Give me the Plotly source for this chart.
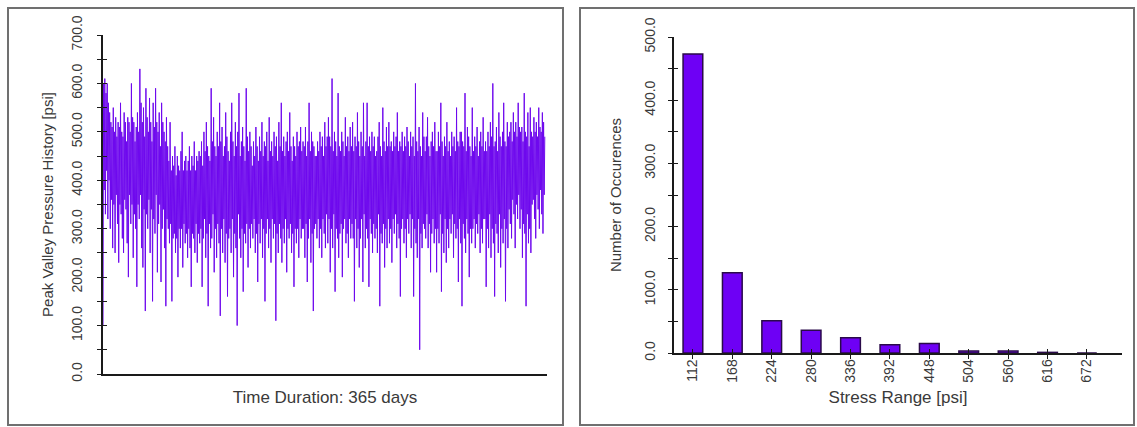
import plotly.graph_objects as go

# ---- Left chart: peak-valley pressure history (psi) ----
pressure_part1 = [100, 600, 380, 610, 330, 580, 420, 600, 320, 560,
                  400, 540, 300, 520, 360, 510, 260, 550, 350, 500,
                  250, 530, 370, 490, 310, 520, 230, 510, 350, 560,
                  330, 500, 280, 490, 250, 540, 360, 520, 340, 480,
                  270, 530, 200, 520, 370, 500, 310, 600, 350, 530,
                  240, 520, 330, 480, 300, 510, 180, 540, 350, 500,
                  320, 630, 370, 560, 260, 520, 220, 550, 340, 490,
                  130, 590, 330, 530, 300, 500, 360, 570, 250, 520,
                  340, 480, 150, 560, 320, 510, 290, 590, 370, 520,
                  210, 500, 310, 540, 350, 470, 190, 560, 300, 520,
                  340, 500, 260, 480, 140, 530, 320, 470]
pressure_part2 = [300, 440, 270, 520, 310, 420, 150, 450, 280, 430,
                  290, 470, 250, 410, 280, 450, 200, 430, 300, 420,
                  260, 460, 300, 500, 220, 420, 310, 440, 270, 450,
                  290, 420, 240, 440, 300, 470, 260, 420, 180, 450,
                  290, 430, 280, 480, 250, 420, 310, 450, 230, 440,
                  290, 460]
pressure_part3 = [270, 450, 300, 480, 180, 430, 280, 500, 320, 460,
                  240, 520, 290, 470, 140, 450, 310, 440, 260, 590,
                  280, 480, 330, 530, 210, 470, 300, 450, 240, 500,
                  310, 470, 270, 560, 120, 480, 300, 510, 250, 450,
                  320, 470, 230, 540, 290, 490, 160, 460, 280, 440,
                  300, 500, 250, 560, 320, 480, 200, 450, 290, 520,
                  260, 470, 100, 500, 330, 580, 280, 450, 240, 480,
                  300, 510, 170, 470, 290, 440, 270, 590, 310, 490,
                  220, 460, 300, 500, 260, 470, 310, 430, 280, 480,
                  320, 450, 250, 510, 290, 470, 190, 440, 310, 490,
                  270, 460, 320, 520, 240, 450, 300, 480, 150, 470,
                  290, 500, 320, 440, 260, 530, 300, 460, 230, 480,
                  320, 450, 280, 500, 310, 470, 110, 490, 290, 440,
                  250, 520, 310, 470, 280, 560, 230, 460, 300, 490,
                  270, 450, 320, 480, 210, 500, 300, 460, 280, 540,
                  310, 470, 250, 440, 290, 490, 180, 470, 300, 450,
                  270, 500, 300, 470, 240, 480, 320, 510, 280, 460,
                  300, 480]
pressure_part4 = [300, 470, 240, 510, 310, 450, 190, 480, 280, 560, 320, 460, 230, 500, 290, 480, 130, 470, 300, 450,
                  310, 450, 280, 480, 320, 460, 260, 500, 300, 470, 240, 490, 320, 450, 290, 520, 260, 470, 330, 490,
                  270, 530, 320, 490, 210, 470, 300, 610, 260, 460, 330, 500, 170, 480, 300, 450, 280, 580, 240, 470,
                  290, 460, 310, 500, 200, 480, 300, 450, 320, 530, 270, 470, 290, 490, 240, 460, 320, 510, 280, 470,
                  310, 520, 280, 460, 150, 490, 320, 470, 260, 540, 300, 480, 220, 450, 280, 500, 320, 470, 190, 560,
                  330, 450, 260, 480, 300, 560, 280, 470, 180, 490, 320, 460, 290, 500, 250, 470, 310, 490, 280, 450,
                  300, 460, 250, 490, 330, 520, 140, 470, 290, 450, 270, 550, 310, 480, 220, 460, 300, 510, 260, 470,
                  320, 520, 270, 470, 300, 480, 230, 460, 320, 500, 290, 470, 330, 490, 260, 540, 310, 460, 280, 480,
                  160, 470, 300, 500, 320, 460, 270, 490, 300, 470, 240, 510, 320, 480, 290, 450, 330, 500, 260, 470,
                  320, 490, 160, 450, 300, 600, 270, 480, 240, 460, 320, 510, 50, 470, 290, 450, 260, 540, 310, 490,
                  300, 460, 280, 490, 330, 530, 260, 470, 310, 450, 210, 480, 290, 500, 320, 470, 270, 520, 300, 460,
                  210, 460, 300, 500, 270, 470, 330, 560, 170, 480, 290, 450, 250, 490, 320, 470, 230, 520, 300, 460,
                  260, 480, 320, 450, 290, 500, 330, 470, 240, 490, 310, 460, 280, 550, 300, 480, 190, 470, 320, 500,
                  270, 500, 140, 480, 310, 470, 280, 580, 250, 460, 320, 510, 290, 490, 200, 470, 300, 450, 270, 550,
                  300, 460, 320, 490, 260, 470, 310, 510, 290, 450, 330, 480, 250, 500, 300, 470, 270, 530, 320, 460,
                  320, 480, 180, 460, 300, 500, 260, 470, 330, 520, 240, 490, 300, 600, 270, 470, 160, 480, 310, 510,
                  290, 460, 250, 540, 330, 490, 220, 470, 300, 500, 270, 560, 320, 480, 150, 470, 300, 520, 260, 490,
                  340, 500, 310, 520, 280, 480, 360, 540, 330, 500, 260, 520, 350, 490, 320, 560, 370, 510, 300, 500,
                  340, 510, 240, 480, 310, 580, 290, 500, 140, 490, 330, 540, 270, 470, 300, 550, 250, 500, 350, 490,
                  360, 530, 320, 500, 280, 520, 370, 490, 340, 550, 300, 510, 380, 500, 330, 540, 290, 520, 370, 490]
pressure = pressure_part1 + pressure_part2 + pressure_part3 + pressure_part4
sample_index = list(range(len(pressure)))

# ---- Right chart: stress range histogram ----
stress_labels = ["112", "168", "224", "280", "336", "392", "448", "504", "560", "616", "672"]
occurrences = [473, 127, 51, 36, 24, 13, 15, 3, 3, 1, 0]
bar_pos = list(range(len(stress_labels)))

W, H = 1137, 427
FONT = "Liberation Sans, Arial, sans-serif"
TXT = "#3a3a3a"
AX = "#1a1a1a"
LINE_PURPLE = "#6E08EE"
BAR_FILL = "#6E00F5"
BAR_EDGE = "#2A0A4A"


def px_x(p):
    return p / W


def px_y(p):
    return 1 - p / H


fig = go.Figure()
fig.add_trace(go.Scatter(x=sample_index, y=pressure, mode="lines",
                         line=dict(color=LINE_PURPLE, width=1.0),
                         xaxis="x", yaxis="y", showlegend=False,
                         hoverinfo="skip"))
fig.add_trace(go.Bar(x=bar_pos, y=occurrences, width=0.5,
                     marker=dict(color=BAR_FILL, line=dict(color=BAR_EDGE, width=1.5)),
                     xaxis="x2", yaxis="y2", showlegend=False))
# empty helper traces so the overlay axes (inner halves of the crossing ticks) are drawn
fig.add_trace(go.Scatter(x=[], y=[], xaxis="x", yaxis="y3", showlegend=False))
fig.add_trace(go.Scatter(x=[], y=[], xaxis="x2", yaxis="y4", showlegend=False))
fig.add_trace(go.Scatter(x=[], y=[], xaxis="x3", yaxis="y2", showlegend=False))

axis_common = dict(showline=True, linecolor=AX, linewidth=1.5,
                   showgrid=False, zeroline=False, automargin=False,
                   tickfont=dict(family=FONT, size=14, color=TXT))

n = len(pressure)
left_dom_x = [px_x(103), px_x(547)]
left_dom_y = [px_y(374), px_y(35)]
right_dom_x = [px_x(674), px_x(1122)]
right_dom_y = [px_y(353), px_y(37)]

fig.update_layout(
    template="none",
    width=W, height=H,
    margin=dict(l=0, r=0, t=0, b=0, pad=0),
    paper_bgcolor="white", plot_bgcolor="white",
    font=dict(family=FONT, color=TXT),
    xaxis=dict(domain=left_dom_x, anchor="y",
               range=[0, (n - 1) * 1.005], showticklabels=False, ticks="",
               title=dict(text="Time Duration: 365 days",
                          font=dict(family=FONT, size=17, color=TXT), standoff=16),
               **axis_common),
    yaxis=dict(domain=left_dom_y, anchor="x",
               range=[0, 700], tickmode="linear", tick0=0, dtick=100,
               tickformat=".1f", tickangle=-90, ticks="outside", ticklen=4,
               tickcolor=AX, ticklabelstandoff=10,
               minor=dict(ticks="outside", dtick=50, ticklen=4, tickcolor=AX),
               title=dict(text="Peak Valley Pressure History [psi]",
                          font=dict(family=FONT, size=15, color=TXT), standoff=11),
               **axis_common),
    yaxis3=dict(overlaying="y", anchor="x", side="left", range=[0, 700],
                tickmode="linear", tick0=0, dtick=50, ticks="inside", ticklen=4,
                tickcolor=AX, showticklabels=False, showline=False,
                showgrid=False, zeroline=False, automargin=False),
    xaxis2=dict(domain=right_dom_x, anchor="y2",
                range=[-0.48, 10.89], tickmode="array", tickvals=bar_pos,
                ticktext=stress_labels, tickangle=-90, ticks="outside", ticklen=4,
                tickcolor=AX, ticklabelstandoff=-5,
                title=dict(text="Stress Range [psi]",
                           font=dict(family=FONT, size=17, color=TXT), standoff=9),
                **axis_common),
    xaxis3=dict(overlaying="x2", anchor="y2", side="bottom", range=[-0.48, 10.89],
                tickmode="array", tickvals=bar_pos, ticks="inside", ticklen=4,
                tickcolor=AX, showticklabels=False, showline=False,
                showgrid=False, zeroline=False, automargin=False),
    yaxis2=dict(domain=right_dom_y, anchor="x2",
                range=[0, 500], tickmode="linear", tick0=0, dtick=100,
                tickformat=".1f", tickangle=-90, ticks="outside", ticklen=4,
                tickcolor=AX, ticklabelstandoff=8,
                minor=dict(ticks="outside", dtick=50, ticklen=4, tickcolor=AX),
                title=dict(text="Number of Occurences",
                           font=dict(family=FONT, size=15, color=TXT), standoff=16),
                **axis_common),
    yaxis4=dict(overlaying="y2", anchor="x2", side="left", range=[0, 500],
                tickmode="linear", tick0=0, dtick=50, ticks="inside", ticklen=4,
                tickcolor=AX, showticklabels=False, showline=False,
                showgrid=False, zeroline=False, automargin=False),
    shapes=[
        dict(type="rect", xref="paper", yref="paper",
             x0=px_x(8), x1=px_x(563), y0=px_y(425), y1=px_y(8),
             line=dict(color="#707070", width=2), fillcolor="rgba(0,0,0,0)", layer="below"),
        dict(type="rect", xref="paper", yref="paper",
             x0=px_x(580), x1=px_x(1134), y0=px_y(425), y1=px_y(8),
             line=dict(color="#707070", width=2), fillcolor="rgba(0,0,0,0)", layer="below"),
    ],
)

fig.write_html("out.html", config={"displayModeBar": False},
               post_script="document.body.style.margin='0px';")
